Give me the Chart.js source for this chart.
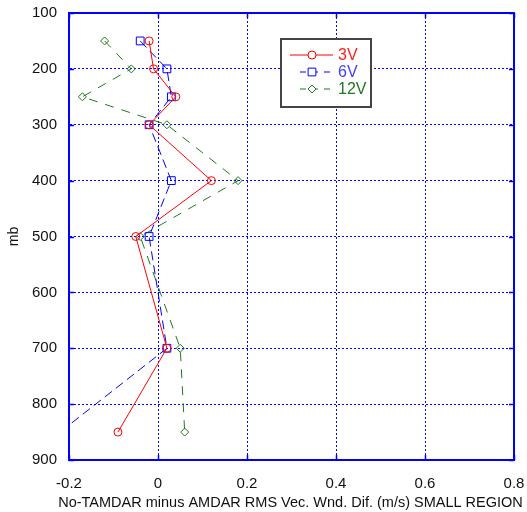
<!DOCTYPE html>
<html>
<head>
<meta charset="utf-8">
<script src="https://cdn.jsdelivr.net/npm/chart.js@4"></script>
<style>
  html, body { margin: 0; padding: 0; background: #fff; }
  #wrap { width: 527px; height: 512px; }
</style>
</head>
<body>
<div id="wrap"><canvas id="rms-chart"></canvas></div>
<script>
// pressure levels (mb) and RMS vector wind differences per series
const levels = [150, 200, 250, 300, 400, 500, 700, 850];
const rms3V = [-0.02, -0.01, 0.04, -0.02, 0.12, -0.05, 0.02, -0.09];
const rms6V = [-0.04, 0.02, 0.03, -0.02, 0.03, -0.02, 0.02, -0.22];
const rms12V = [-0.12, -0.06, -0.17, 0.02, 0.18, -0.04, 0.05, 0.06];

const xTicks = [-0.2, 0, 0.2, 0.4, 0.6, 0.8];
const yTicks = [100, 200, 300, 400, 500, 600, 700, 800, 900];

const xTitle = "No-TAMDAR minus AMDAR RMS Vec. Wnd. Dif. (m/s) SMALL REGION";

const FONT = "'Liberation Sans', Arial, sans-serif";
const BLUE = "#0000ff";

const series = [
    { label: "3V", values: rms3V, color: "#ff0000", text: "#ff2020", style: "circle", radius: 4, dash: [] },
    { label: "6V", values: rms6V, color: "#0000ff", text: "#4040ff", style: "rect", radius: 5.5, dash: [9, 5] },
    { label: "12V", values: rms12V, color: "#1f7a1f", text: "#1f7a1f", style: "rectRot", radius: 4, dash: [9, 8] }
];

const toPoints = values => values.map((v, i) => ({ x: v, y: levels[i] }));

// frame, inner tick marks, x title (scale title gets squeezed) and legend box
const framePlugin = {
    id: "frame",
    afterDraw(chart) {
        const { ctx, chartArea: a, scales } = chart;
        ctx.save();
        ctx.strokeStyle = BLUE;
        ctx.lineWidth = 2;
        ctx.strokeRect(a.left, a.top, a.right - a.left, a.bottom - a.top);

        ctx.lineWidth = 1.5;
        ctx.beginPath();
        xTicks.forEach(v => {
            const px = Math.round(scales.x.getPixelForValue(v)) + 0.5;
            ctx.moveTo(px, a.bottom); ctx.lineTo(px, a.bottom - 5);
            ctx.moveTo(px, a.top); ctx.lineTo(px, a.top + 5);
        });
        yTicks.forEach(v => {
            const py = Math.round(scales.y.getPixelForValue(v)) + 0.5;
            ctx.moveTo(a.left, py); ctx.lineTo(a.left + 5, py);
            ctx.moveTo(a.right, py); ctx.lineTo(a.right - 5, py);
        });
        ctx.stroke();

        ctx.fillStyle = "#111";
        ctx.font = "14.5px " + FONT;
        ctx.textAlign = "center";
        ctx.textBaseline = "middle";
        ctx.fillText(xTitle, (a.left + a.right) / 2 - 1, 503);

        const bx = a.left + 212, by = a.top + 26;
        ctx.fillStyle = "#fff";
        ctx.fillRect(bx, by, 90, 68);
        ctx.strokeStyle = "#444";
        ctx.lineWidth = 2;
        ctx.strokeRect(bx, by, 90, 68);

        ctx.font = "16px " + FONT;
        series.forEach((s, i) => {
            const y = by + 16 + i * 17;
            ctx.strokeStyle = s.color;
            ctx.lineWidth = 1;
            ctx.setLineDash(s.dash.length ? [6, 6] : []);
            ctx.beginPath();
            ctx.moveTo(bx + (s.dash.length ? 19 : 9), y);
            ctx.lineTo(bx + 52, y);
            ctx.stroke();
            ctx.setLineDash([]);
            ctx.fillStyle = "#fff";
            Chart.helpers.drawPoint(ctx, {
                pointStyle: s.style,
                radius: s.radius,
                borderWidth: 1
            }, bx + 31, y);
            ctx.fillStyle = s.text;
            ctx.textAlign = "left";
            ctx.fillText(s.label, bx + 57, y + 1);
        });
        ctx.restore();
    }
};

const datasets = series.map(s => ({
    label: s.label,
    data: toPoints(s.values),
    borderColor: s.color,
    backgroundColor: "rgba(0,0,0,0)",
    borderWidth: 1,
    borderDash: s.dash,
    pointStyle: s.style,
    pointRadius: s.radius,
    pointBorderColor: s.color,
    pointBackgroundColor: "rgba(0,0,0,0)",
    pointBorderWidth: 1,
    showLine: true,
    fill: false,
    tension: 0
}));

new Chart(document.getElementById("rms-chart"), {
    type: "scatter",
    data: { datasets },
    options: {
        responsive: true,
        maintainAspectRatio: false,
        animation: false,
        layout: { padding: { top: 13, right: 13, left: 0, bottom: 0 } },
        plugins: {
            legend: { display: false },
            tooltip: { enabled: false }
        },
        scales: {
            x: {
                type: "linear",
                min: xTicks[0],
                max: xTicks[xTicks.length - 1],
                afterBuildTicks: s => { s.ticks = xTicks.map(v => ({ value: v })); },
                afterFit: s => { s.height = 52; s.paddingLeft = 0; s.paddingRight = 0; },
                ticks: {
                    color: "#111",
                    font: { family: FONT, size: 15 },
                    padding: 15,
                    callback: v => String(Number(v.toFixed(1)))
                },
                grid: { color: BLUE, lineWidth: 1, drawTicks: false },
                border: { color: BLUE, width: 2, dash: [2, 2] },
                title: { display: false }
            },
            y: {
                type: "linear",
                reverse: true,
                min: yTicks[0],
                max: yTicks[yTicks.length - 1],
                afterBuildTicks: s => { s.ticks = yTicks.map(v => ({ value: v })); },
                afterFit: s => { s.width = 69; s.paddingTop = 0; s.paddingBottom = 0; },
                ticks: {
                    color: "#111",
                    font: { family: FONT, size: 15 },
                    padding: 12
                },
                grid: { color: BLUE, lineWidth: 1, drawTicks: false },
                border: { color: BLUE, width: 2, dash: [2, 2] },
                title: {
                    display: true,
                    text: "mb",
                    color: "#111",
                    font: { family: FONT, size: 14 },
                    padding: { top: 6, bottom: 0 }
                }
            }
        }
    },
    plugins: [framePlugin]
});
</script>
</body>
</html>
